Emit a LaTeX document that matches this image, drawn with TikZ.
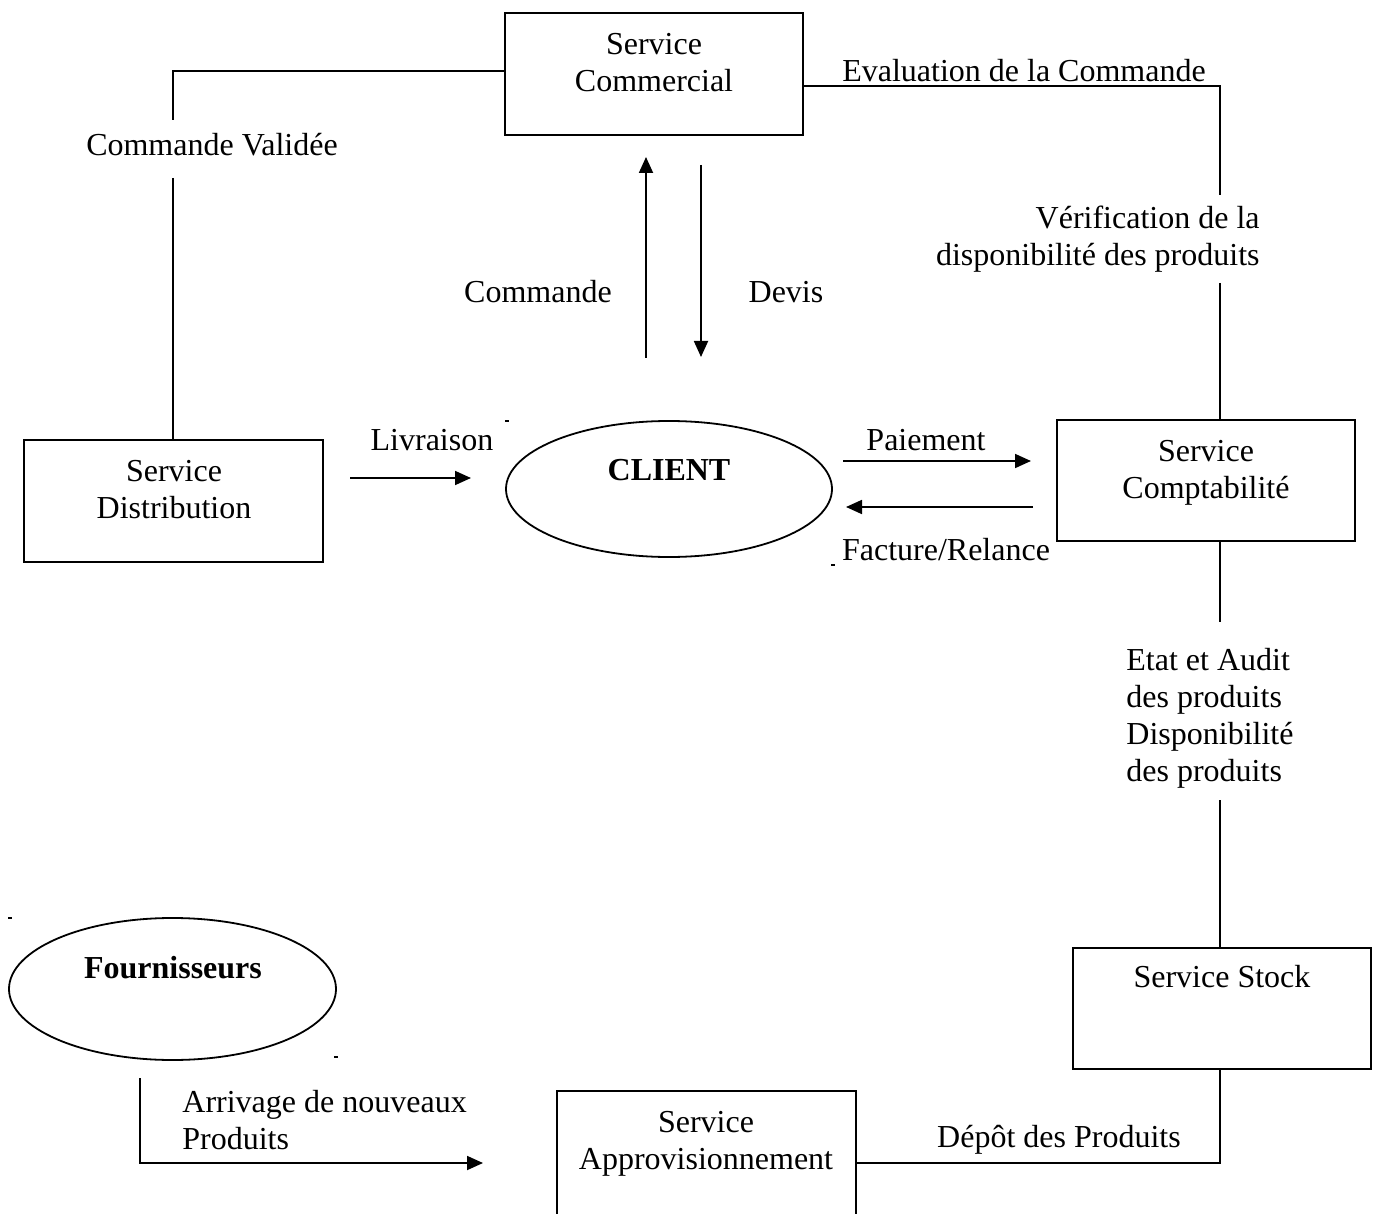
\documentclass[tikz,border=0pt]{standalone}
\usepackage{fontspec}
\setmainfont{Liberation Serif}
\usetikzlibrary{arrows.meta,shapes.geometric}
\begin{document}
\begin{tikzpicture}[x=0.5pt,y=-0.5pt,
  txt/.style={font=\fontsize{16}{18.5}\selectfont, inner sep=0pt, align=center},
  boldtxt/.style={txt, font=\fontsize{16}{18.5}\selectfont\bfseries},
  box/.style={draw, line width=0.9pt, rectangle, inner sep=0pt},
  oval/.style={draw, line width=0.9pt, ellipse, inner sep=0pt},
  link/.style={line width=0.9pt},
  arr/.style={line width=0.9pt, -{Triangle[length=8pt,width=7pt]}},
  speck/.style={fill=black, inner sep=0pt, minimum width=1.6pt, minimum height=1.4pt}]
\clip (0,0) rectangle (1377,1214);
\fill[white] (0,0) rectangle (1377,1214);

% service boxes
\node[box, minimum width=149pt, minimum height=61pt] (com) at (654,74) {};
\node[box, minimum width=149.5pt, minimum height=61pt] (dist) at (173.5,501) {};
\node[box, minimum width=149pt, minimum height=60.5pt] (compta) at (1206,480.5) {};
\node[box, minimum width=149pt, minimum height=60.5pt] (stock) at (1222,1008.5) {};
\node[box, minimum width=149.5pt, minimum height=70pt] (appro) at (706.5,1161) {};

% actors
\node[oval, minimum width=163pt, minimum height=68pt] (client) at (669,489) {};
\node[oval, minimum width=163.5pt, minimum height=71pt] (fourn) at (172.5,989) {};

% box titles
\node[txt] (tcom) at (654,62.5) {Service\\Commercial};
\node[txt] (tdist) at (174,489.5) {Service\\Distribution};
\node[txt] (tcompta) at (1206,473) {Service\\Comptabilité};
\node[txt] (tstock) at (1222,977) {Service Stock};
\node[txt] (tappro) at (706,1143.5) {Service\\Approvisionnement};
\node[boldtxt] (tclient) at (669,470) {CLIENT};
\node[boldtxt] (tfourn) at (173,968) {Fournisseurs};

% flow labels
\node[txt] (lcv) at (212,145) {Commande Validée};
\node[txt] (leval) at (1024,71) {Evaluation de la Commande};
\node[txt, align=right, anchor=east] (lverif) at (1260,239.5) {Vérification de la\\disponibilité des produits};
\node[txt] (lcmd) at (538,292) {Commande};
\node[txt] (ldevis) at (786,292) {Devis};
\node[txt] (lliv) at (432,440) {Livraison};
\node[txt] (lpai) at (926,440) {Paiement};
\node[txt] (lfact) at (946,550) {Facture/Relance};
\node[txt, align=left, anchor=west] (letat) at (1126,718.5) {Etat et Audit\\des produits\\Disponibilité\\des produits};
\node[txt, align=left, anchor=west] (larr) at (182,1120) {Arrivage de nouveaux\\Produits};
\node[txt] (ldepot) at (1059,1140) {Dépôt des Produits};

% free ends of connectors
\coordinate (cvtop) at (173,120);
\coordinate (cvbot) at (173,178);
\coordinate (vtop) at (1220,195);
\coordinate (vbot) at (1220,283);
\coordinate (eatop) at (1220,622);
\coordinate (eabot) at (1220,800);
\coordinate (dcorner) at (1220,1163);
\coordinate (fstart) at (140,1078);
\coordinate (fend) at (483,1163);
\coordinate (cmdA) at (646,358);
\coordinate (cmdB) at (646,157);
\coordinate (devA) at (701,165);
\coordinate (devB) at (701,357);
\coordinate (livA) at (350,478);
\coordinate (livB) at (471,478);
\coordinate (paiA) at (843,461);
\coordinate (paiB) at (1031,461);
\coordinate (facA) at (1033,507);
\coordinate (facB) at (846,507);

% connectors
\draw[link] ([yshift=1.5pt]com.west) -| (cvtop);
\draw[link] (cvbot) -- (cvbot |- dist.north);
\draw[link] ([yshift=-6pt]com.east) -| (vtop);
\draw[link] (vbot) -- (vbot |- compta.north);
\draw[link] (eatop |- compta.south) -- (eatop);
\draw[link] (eabot) -- (eabot |- stock.north);
\draw[link] (dcorner |- stock.south) -- (dcorner) -- (dcorner -| appro.east);
\draw[arr] (fstart) |- (fend);
\draw[arr] (cmdA) -- (cmdB);
\draw[arr] (devA) -- (devB);
\draw[arr] (livA) -- (livB);
\draw[arr] (paiA) -- (paiB);
\draw[arr] (facA) -- (facB);

% stray marks
\node[speck] (s1) at (507,421) {};
\node[speck] (s2) at (833,565) {};
\node[speck] (s3) at (10,918) {};
\node[speck] (s4) at (336,1057) {};
\end{tikzpicture}
\end{document}
